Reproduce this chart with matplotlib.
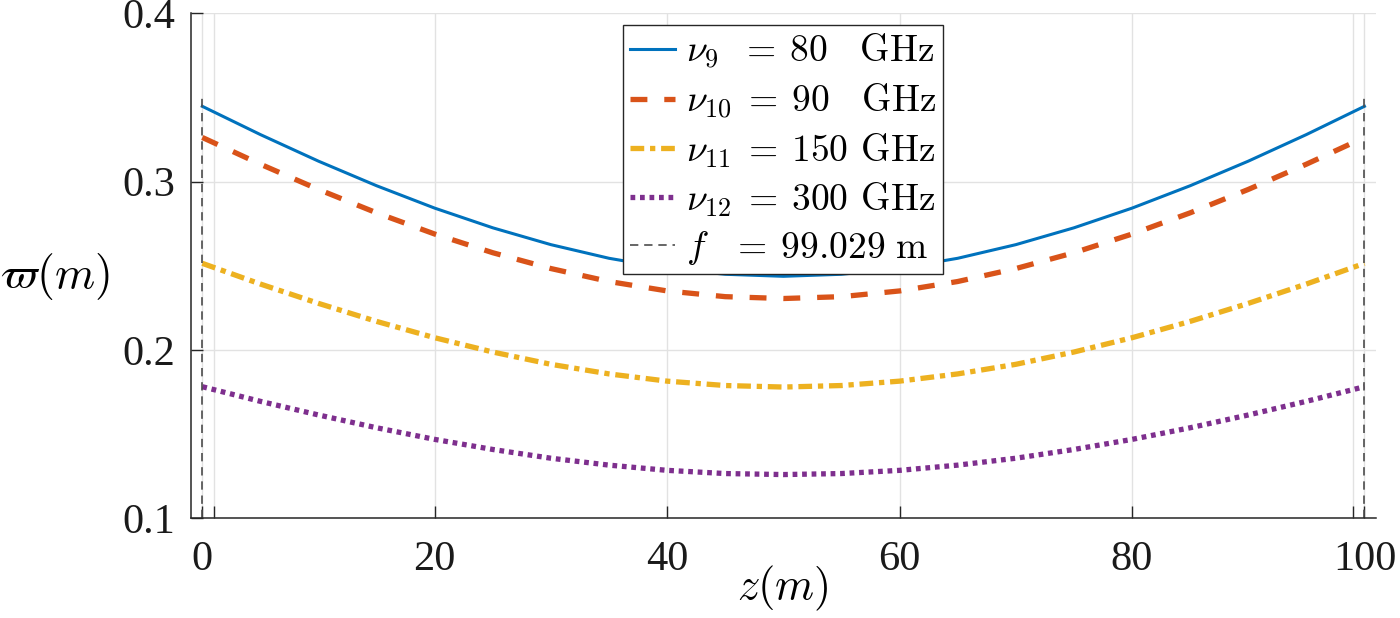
import matplotlib
matplotlib.use("Agg")
import matplotlib.pyplot as plt

# beam radius along the line of sight at 5 m steps
z = [0, 5, 10, 15, 20, 25, 30, 35, 40, 45, 50,
     55, 60, 65, 70, 75, 80, 85, 90, 95, 100]
w_80 = [0.3448, 0.3280, 0.3122, 0.2976, 0.2843, 0.2726, 0.2626, 0.2545, 0.2486, 0.2450, 0.2438,
        0.2450, 0.2486, 0.2545, 0.2626, 0.2726, 0.2843, 0.2976, 0.3122, 0.3280, 0.3448]
w_90 = [0.3263, 0.3104, 0.2954, 0.2815, 0.2689, 0.2578, 0.2484, 0.2407, 0.2351, 0.2317, 0.2306,
        0.2317, 0.2351, 0.2407, 0.2484, 0.2578, 0.2689, 0.2815, 0.2954, 0.3104, 0.3263]
w_150 = [0.2515, 0.2392, 0.2277, 0.2170, 0.2073, 0.1988, 0.1915, 0.1858, 0.1815, 0.1789, 0.1780,
         0.1789, 0.1815, 0.1858, 0.1915, 0.1988, 0.2073, 0.2170, 0.2277, 0.2392, 0.2515]
w_300 = [0.1782, 0.1695, 0.1614, 0.1538, 0.1469, 0.1409, 0.1357, 0.1316, 0.1285, 0.1266, 0.1260,
         0.1266, 0.1285, 0.1316, 0.1357, 0.1409, 0.1469, 0.1538, 0.1614, 0.1695, 0.1782]

labels = [r"$\nu_9\hspace{0.6}=\hspace{0.22}80\hspace{1.0}\mathrm{GHz}$",
          r"$\nu_{10}\hspace{0.26}=\hspace{0.22}90\hspace{1.0}\mathrm{GHz}$",
          r"$\nu_{11}\hspace{0.26}=\hspace{0.22}150\hspace{0.4}\mathrm{GHz}$",
          r"$\nu_{12}\hspace{0.26}=\hspace{0.22}300\hspace{0.4}\mathrm{GHz}$",
          r"$f\hspace{0.82}=\hspace{0.22}99.029\hspace{0.32}\mathrm{m}$"]

mirror_z = [0, 100]
mirror_top = 0.35
x_ticks = [0, 0.971, 20, 40, 60, 80, 99.029, 100]
x_ticklabels = ["0", "", "20", "40", "60", "80", "", "100"]
y_ticks = [0.1, 0.2, 0.3, 0.4]

plt.rcParams["font.family"] = ["Liberation Serif", "DejaVu Serif"]
plt.rcParams["mathtext.fontset"] = "cm"

fig = plt.figure(figsize=(14, 6.18), dpi=100)
ax = fig.add_axes([0.1362, 0.1613, 0.8467, 0.8170])

ax.plot(z, w_80, color="#0072BD", lw=2.2, label=labels[0])
ax.plot(z, w_90, color="#D95319", lw=3.8, dashes=(3.2, 3.2), label=labels[1])
ax.plot(z, w_150, color="#EDB120", lw=3.8, dashes=(2.6, 1.1, 1.0, 1.1), label=labels[2])
ax.plot(z, w_300, color="#7E2F8E", lw=3.8, dashes=(0.9, 0.9), label=labels[3])
for i, zm in enumerate(mirror_z):
    ax.plot([zm, zm], [0.1, mirror_top], color="#4d4d4d", lw=1.2, dashes=(5, 3.5),
            label=labels[4] if i == 0 else None)

ax.set_xlim(-1, 101)
ax.set_ylim(0.1, 0.4)
ax.set_xticks(x_ticks)
ax.set_xticklabels(x_ticklabels)
ax.set_yticks(y_ticks)
ax.set_yticklabels([f"{v:.1f}" for v in y_ticks])

ax.grid(True, color="#e2e2e2", lw=1.0)
ax.set_axisbelow(True)
for side in ["top", "right"]:
    ax.spines[side].set_visible(False)
for side in ["left", "bottom"]:
    ax.spines[side].set_color("#262626")
    ax.spines[side].set_linewidth(1.1)
ax.tick_params(direction="in", length=8.5, width=1.0, color="#262626",
               labelsize=30.5, labelcolor="#1a1a1a")
ax.tick_params(axis="y", pad=11)
ax.tick_params(axis="x", pad=16)

ax.set_xlabel(r"$z(m)$", fontsize=32, va="top")
ax.set_ylabel(r"$\varpi(m)$", fontsize=33, rotation=0, ha="center", va="center")
ax.yaxis.set_label_coords(-0.1145, 0.478)
ax.xaxis.set_label_coords(0.5, -0.09)

leg = ax.legend(loc="upper center", bbox_to_anchor=(0.5, 0.977), borderaxespad=0,
                fontsize=27, handlelength=1.2, handletextpad=0.3,
                labelspacing=0.28, borderpad=0.18, fancybox=False, framealpha=1)
leg.get_frame().set_edgecolor("#262626")
leg.get_frame().set_linewidth(1.0)

fig.savefig("out.png", dpi=100)
